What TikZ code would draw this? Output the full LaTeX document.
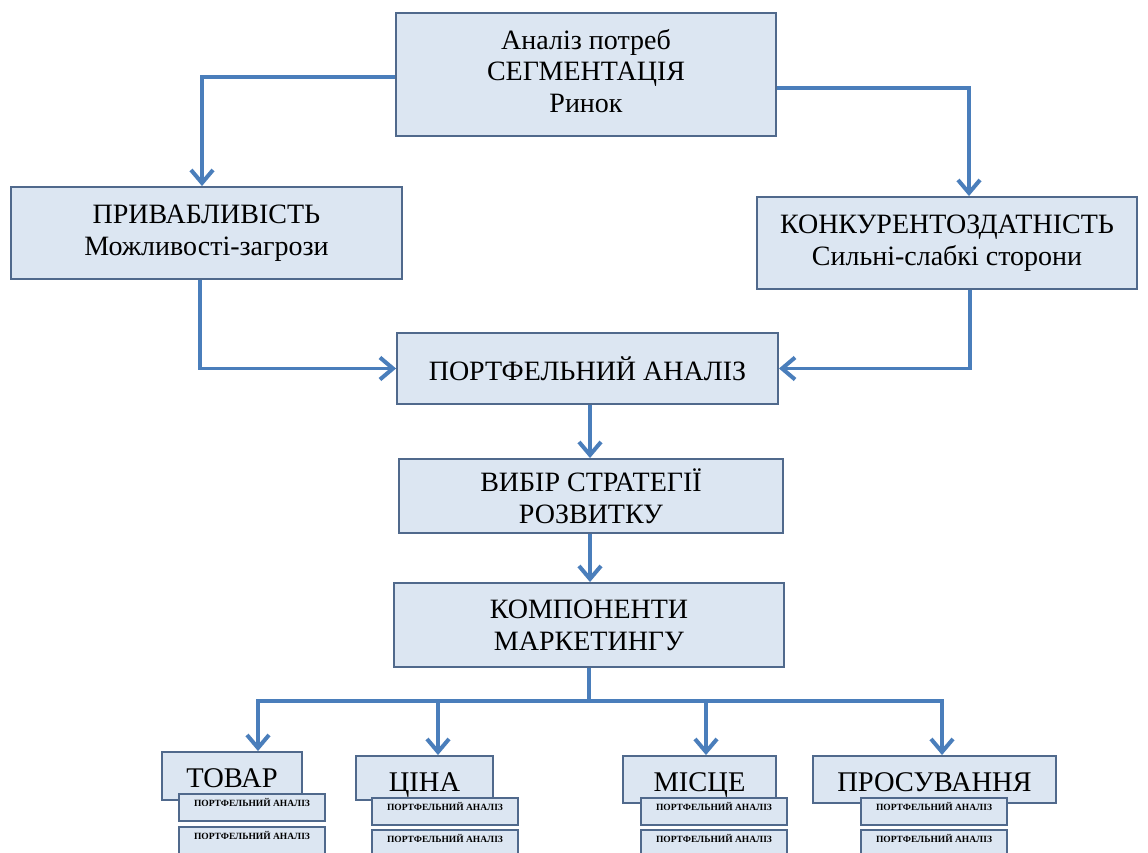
\documentclass[tikz,border=0pt]{standalone}
\usepackage{fontspec}
\setmainfont{Liberation Serif}
\usetikzlibrary{arrows.meta}
\definecolor{fillc}{HTML}{DCE6F2}
\definecolor{edgec}{HTML}{50698C}
\definecolor{linec}{HTML}{4A7EBB}
\begin{document}
\begin{tikzpicture}[x=1pt,y=-1pt,
  box/.style={draw=edgec,line width=1.9pt,fill=fillc,inner sep=0pt,align=center,
    font=\fontsize{28}{32}\selectfont},
  lowbox/.style={box,text depth=0pt,font=\fontsize{28.5}{32}\selectfont},
  smallbox/.style={draw=edgec,line width=1.6pt,fill=fillc,inner xsep=0pt,inner ysep=3pt,
    minimum width=146pt,text height=10pt,text depth=11pt,
    font=\fontsize{9.5}{10}\selectfont\bfseries},
  conn/.style={draw=linec,line width=3.6pt},
  arr/.style={conn,-{Straight Barb[length=13pt,width=22pt,line width=4pt]}}
]
\clip (0,0) rectangle (1148,853);
\fill[white] (0,0) rectangle (1148,853);

\node[box,minimum width=380pt,minimum height=123pt,text depth=8pt,
  font=\fontsize{28}{31.5}\selectfont] (top) at (586,74.5)
  {Аналіз потреб\\СЕГМЕНТАЦІЯ\\Ринок};
\node[box,minimum width=391pt,minimum height=92pt] (priv) at (206.5,233)
  {ПРИВАБЛИВІСТЬ\\Можливості-загрози};
\node[box,minimum width=380pt,minimum height=92pt] (konk) at (947,243)
  {КОНКУРЕНТОЗДАТНІСТЬ\\Сильні-слабкі сторони};
\node[box,minimum width=381pt,minimum height=71pt] (port) at (587.5,368.5)
  {ПОРТФЕЛЬНИЙ АНАЛІЗ};
\node[box,minimum width=384pt,minimum height=74pt] (vybir) at (591,496)
  {ВИБІР СТРАТЕГІЇ\\РОЗВИТКУ};
\node[box,minimum width=390pt,minimum height=84pt] (komp) at (589,625)
  {КОМПОНЕНТИ\\МАРКЕТИНГУ};

\node[lowbox,minimum width=140pt,minimum height=48pt,text height=22.5pt] (tovar) at (232,776)
  {ТОВАР};
\node[lowbox,minimum width=137pt,minimum height=44pt,text height=26pt] (cina) at (424.5,778)
  {ЦІНА};
\node[lowbox,minimum width=153pt,minimum height=47pt,text height=23.5pt] (misce) at (699.5,779.5)
  {МІСЦЕ};
\node[lowbox,minimum width=243pt,minimum height=47pt,text height=24.5pt] (prosuv) at (934.5,779.5)
  {ПРОСУВАННЯ};

\node[smallbox,anchor=north] (t1) at (252,793) {ПОРТФЕЛЬНИЙ АНАЛІЗ};
\node[smallbox,anchor=north] (t2) at (252,826) {ПОРТФЕЛЬНИЙ АНАЛІЗ};
\node[smallbox,anchor=north] (c1) at (445,797) {ПОРТФЕЛЬНИЙ АНАЛІЗ};
\node[smallbox,anchor=north] (c2) at (445,829) {ПОРТФЕЛЬНИЙ АНАЛІЗ};
\node[smallbox,anchor=north] (m1) at (714,797) {ПОРТФЕЛЬНИЙ АНАЛІЗ};
\node[smallbox,anchor=north] (m2) at (714,829) {ПОРТФЕЛЬНИЙ АНАЛІЗ};
\node[smallbox,anchor=north] (p1) at (934,797) {ПОРТФЕЛЬНИЙ АНАЛІЗ};
\node[smallbox,anchor=north] (p2) at (934,829) {ПОРТФЕЛЬНИЙ АНАЛІЗ};

\draw[arr] ([yshift=-2.5pt]top.west) -| ([xshift=-4.5pt]priv.north);
\draw[arr] ([yshift=-13.5pt]top.east) -| ([xshift=22pt]konk.north);
\draw[arr] ([xshift=-6.5pt]priv.south) |- (port.west);
\draw[arr] ([xshift=23pt]konk.south) |- (port.east);
\draw[arr] ([xshift=2.5pt]port.south) -- ([xshift=-1pt]vybir.north);
\draw[arr] ([xshift=-1pt]vybir.south) -- ([xshift=1pt]komp.north);

\coordinate (b1) at (258,701);
\coordinate (b2) at (438,701);
\coordinate (b3) at (706,701);
\coordinate (b4) at (942,701);
\draw[conn] (komp.south) -- (komp.south |- b1);
\draw[arr] (b2) -- (b1) -- (b1 |- tovar.north);
\draw[arr] (b2) -- (b2 |- cina.north);
\draw[arr] (b3) -- (b3 |- misce.north);
\draw[arr] (b2) -- (b4) -- (b4 |- prosuv.north);
\end{tikzpicture}
\end{document}
